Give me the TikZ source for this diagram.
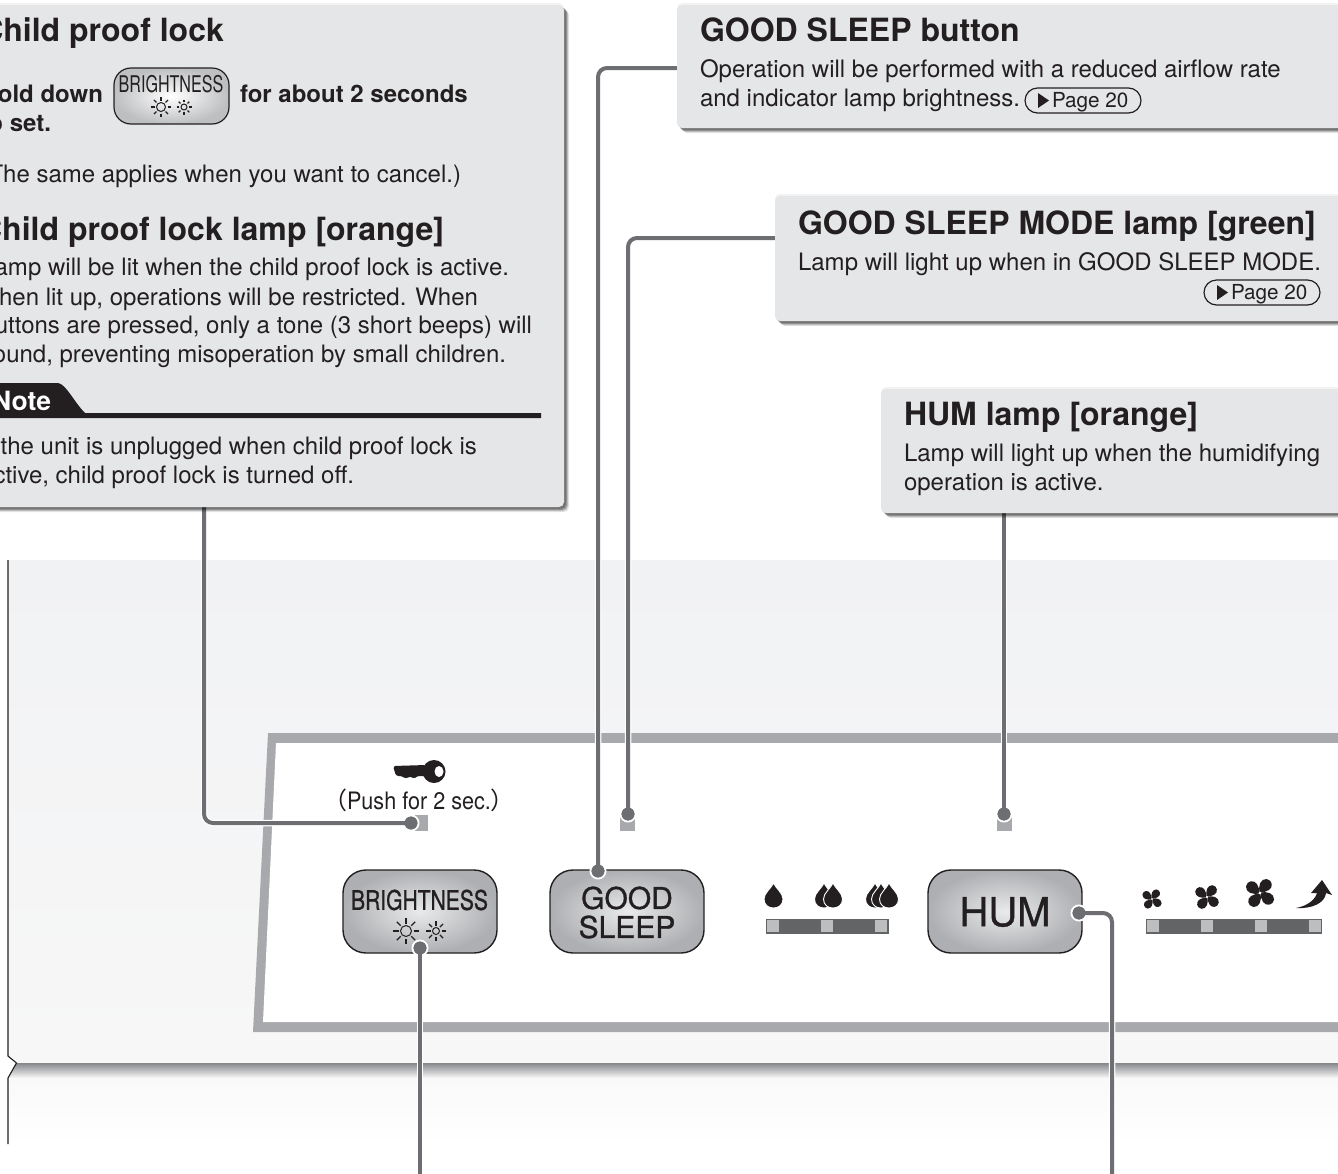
\documentclass[tikz,border=0pt]{standalone}
\usepackage{fontspec}
\usepackage{graphicx}
\setmainfont{TeX Gyre Heros}
\newfontfamily\cjkparen{Noto Sans CJK JP}
\newfontfamily\btnfont[FakeBold=1]{TeX Gyre Heros}
\usetikzlibrary{shadows,calc}
\definecolor{ink}{HTML}{231F20}
\definecolor{panelgrey}{HTML}{E5E6E8}
\definecolor{framegrey}{HTML}{A7A9AC}
\definecolor{linegrey}{HTML}{6D6E71}
\definecolor{bargrey}{HTML}{636466}
\definecolor{sqgrey}{HTML}{BCBEC0}
\definecolor{casetop}{HTML}{F1F2F4}
\definecolor{casebot}{HTML}{F7F7F7}
\definecolor{bandtop}{HTML}{86878B}
\definecolor{lowtop}{HTML}{F9F9F9}
\definecolor{btnlight}{HTML}{E9EAEB}
\definecolor{btnedge}{HTML}{ADAFB2}
\newcommand{\fs}[1]{\fontsize{#1}{#1}\selectfont}
\newcommand{\dropicon}[2]{% x, bottom y
  \path[fill=ink,draw=white,line width=.9pt] (#1,#2-25) .. controls (#1+2,#2-20) and (#1+9.5,#2-15) .. (#1+9.5,#2-9)
   .. controls (#1+9.5,#2-3) and (#1+5,#2) .. (#1,#2)
   .. controls (#1-5,#2) and (#1-9.5,#2-3) .. (#1-9.5,#2-9)
   .. controls (#1-9.5,#2-15) and (#1-2,#2-20) .. (#1,#2-25) -- cycle;}
\newcommand{\fanicon}[4]{% x,y,r,rot
  \begin{scope}[shift={(#1,#2)},rotate=#4]
  \foreach \a in {0,90,180,270}{
    \fill[ink,rotate=\a] (0,0) .. controls (-.05*#3,-.6*#3) and (.35*#3,-1.1*#3) .. (.8*#3,-.95*#3)
      .. controls (1.25*#3,-.75*#3) and (1.15*#3,-.15*#3) .. (.75*#3,-.05*#3) .. controls (.5*#3,.02*#3) and (.25*#3,.02*#3) .. (0,0) -- cycle;
  }
  \fill[white] (0,0) circle (.13*#3);
  \end{scope}}
\newcommand{\sunicon}[4]{% x,y,r,ray end
  \draw[ink,line width=1pt] (#1,#2) circle (#3);
  \foreach \a in {0,45,...,315}{
    \draw[ink,line width=1.2pt] ($(#1,#2)+(\a:#3+2)$) -- ($(#1,#2)+(\a:#4)$);
  }}
\tikzset{
  every node/.style={inner sep=0pt,outer sep=0pt},
  infobox/.style={fill=panelgrey,rounded corners=5pt,
    general shadow={fill=black,opacity=.05,shadow xshift=0pt,shadow yshift=2pt},
    general shadow={fill=black,opacity=.10,shadow xshift=5pt,shadow yshift=-5pt},
    general shadow={fill=black,opacity=.16,shadow xshift=4pt,shadow yshift=-4pt},
    general shadow={fill=black,opacity=.22,shadow xshift=3pt,shadow yshift=-3pt},
    general shadow={fill=black,opacity=.22,shadow xshift=2pt,shadow yshift=-2pt}},
  txt/.style={anchor=base west,text=ink},
  txte/.style={anchor=base east,text=ink},
  head/.style={font=\bfseries\fs{32}},
  body/.style={font=\fs{24}},
  bodyb/.style={font=\bfseries\fs{24}},
  conn/.style={draw=linegrey,line width=4pt,rounded corners=9pt,preaction={draw=white,line width=6.5pt}},
  dot/.style={circle,fill=linegrey,draw=white,line width=2pt,minimum size=15pt},
  lampbox/.style={fill=framegrey,minimum width=15pt,minimum height=16pt},
  button/.style={draw=ink,line width=1.4pt,rounded corners=23pt,minimum width=154pt,minimum height=83pt,inner color=btnlight,outer color=btnedge},
  pill/.style={draw=ink,line width=1.2pt,rounded corners=12.5pt,minimum width=116pt,minimum height=25pt},
  sq/.style={fill=sqgrey,draw=bargrey,line width=1pt,minimum width=13pt,minimum height=13.5pt},
  bar/.style={fill=bargrey,minimum height=15pt},
}
\begin{document}
\begin{tikzpicture}[x=1pt,y=-1pt]
\useasboundingbox (0,0) rectangle (1338,1173);
\fill[white] (0,0) rectangle (1338,1173);
\clip (0,0) rectangle (1338,1173);
% casing background
\shade[top color=casetop,bottom color=casebot] (8,560) rectangle (1338,1058);
\fill[casebot] (8,1058) -- (1338,1058) -- (1338,1063) -- (16,1063) -- cycle;
\shade[top color=bandtop,bottom color=lowtop] (16,1063) -- (1338,1063) -- (1338,1078) -- (8,1078) -- cycle;
\shade[top color=lowtop,bottom color=white] (8,1078) rectangle (1338,1144);
\draw[ink,line width=1.1pt] (8,560) -- (8,1056) -- (16.5,1063) -- (8,1078) -- (8,1144);
% control panel frame
\fill[framegrey] (268,733) -- (1338,733) -- (1338,1032) -- (253,1032) -- cycle;
\fill[white] (276,743) -- (1338,743) -- (1338,1022) -- (263,1022) -- cycle;
% named anchor points
\coordinate (c1) at (204,507);
\coordinate (c2) at (677,68);
\coordinate (c3) at (775,238);
\coordinate (c4) at (1004,513);
\coordinate (e5) at (420,1180);
\coordinate (e6) at (1112,1180);
% lamps
\node[lampbox,minimum width=13pt] (lampchild) at (421,823) {};
\node[lampbox] (lampsleep) at (627.5,823) {};
\node[lampbox] (lamphum) at (1004.5,823) {};
% buttons
\node[button] (btnbright) at (420,911.5) {};
\node[button] (btnsleep) at (627,911.5) {};
\node[button] (btnhum) at (1005,911.5) {};
\node[text=ink,font=\btnfont\fs{27}] (lblbright) at (419.5,900) {\scalebox{.78}[1]{BRIGHTNESS}};
\sunicon{406}{931}{5.5}{13}
\sunicon{436}{931}{3.5}{10}
\node[text=ink,font=\btnfont\fs{30},align=center] (lblsleep) at (627,912.5) {GOOD\\[-1pt]SLEEP};
\node[text=ink,font=\btnfont\fs{40}] (lblhum) at (1005,912) {HUM};
% connector dots
\node[dot] (d1) at (411,823) {};
\node[dot] (d2) at (598,871) {};
\node[dot] (d3) at (628,814) {};
\node[dot] (d4) at (1004,814) {};
\node[dot] (d5) at (420,948) {};
\node[dot] (d6) at (1079,913) {};
% connectors
\draw[conn] (c1) |- (d1.center);
\draw[conn] (c2) -| (d2.center);
\draw[conn] (c3) -| (d3.center);
\draw[conn] (c4) -- (d4.center);
\draw[conn] (d5.center) -- (e5);
\draw[conn] (d6.center) -| (e6);
\foreach \n in {d1,d2,d3,d4,d5,d6}{\fill[linegrey] (\n) circle (6.5pt);}
% info boxes
\node[infobox,minimum width=584pt,minimum height=502pt] (boxchild) at (272,256) {};
\node[infobox,minimum width=683pt,minimum height=123pt] (boxbutton) at (1018.5,66.5) {};
\node[infobox,minimum width=585pt,minimum height=125pt] (boxmode) at (1067.5,258.5) {};
\node[infobox,minimum width=479pt,minimum height=124pt] (boxhum) at (1120.5,451) {};
% child proof text
\node[txte,head] (t1) at (224,41) {Child proof lock};
\node[txte,bodyb] (t2) at (103,102) {Hold down};
\node[draw=ink,line width=1.2pt,rounded corners=17pt,minimum width=115pt,minimum height=56pt,inner color=white,outer color=btnedge!80!white] (btnsmall) at (171.5,96) {};
\node[text=ink,font=\fs{23}] (t3) at (171,84) {\scalebox{.7}[1]{BRIGHTNESS}};
\sunicon{161}{107}{4.5}{10}
\sunicon{184}{107}{3}{7.5}
\node[txt,bodyb] (t4) at (240,102) {for about 2 seconds};
\node[txte,bodyb] (t5) at (51,131) {to set.};
\node[txte,body] (t6) at (461,182) {(The same applies when you want to cancel.)};
\node[txte,head] (t7) at (444,240) {Child proof lock lamp [orange]};
\node[txte,body] (t8) at (509,275) {Lamp will be lit when the child proof lock is active.};
\node[txte,body] (t9) at (478,305) {When lit up, operations will be restricted. When};
\node[txte,body] (t10) at (532,333) {buttons are pressed, only a tone (3 short beeps) will};
\node[txte,body] (t11) at (506,362) {sound, preventing misoperation by small children.};
% note tab
\fill[ink] (-5,383) -- (58,383) .. controls (66,384) and (74,402) .. (85,413) -- (541,413) -- (541,418) -- (-5,418) -- cycle;
\node[anchor=base east,text=white,font=\bfseries\fs{26.5}] (t12) at (51,410) {Note};
\node[txte,body] (t13) at (477,454) {If the unit is unplugged when child proof lock is};
\node[txte,body] (t14) at (354,483) {active, child proof lock is turned off.};
% good sleep button text
\node[txt,head] (t15) at (700,41) {GOOD SLEEP button};
\node[txt,body] (t16) at (700,77) {Operation will be performed with a reduced airflow rate};
\node[txt,body] (t17) at (700,106) {and indicator lamp brightness.};
\node[pill] (pill1) at (1083,100.5) {};
\fill[ink] (1038,93) -- (1049,100.5) -- (1038,108) -- cycle;
\node[txt,font=\fs{20.7}] (t18) at (1052,107) {Page 20};
% mode lamp text
\node[txt,head] (t19) at (798,234) {GOOD SLEEP MODE lamp [green]};
\node[txt,body] (t20) at (798,270) {Lamp will light up when in GOOD SLEEP MODE.};
\node[pill] (pill2) at (1262,292.5) {};
\fill[ink] (1217,285) -- (1228,292.5) -- (1217,300) -- cycle;
\node[txt,font=\fs{20.7}] (t21) at (1231,299) {Page 20};
% hum lamp text
\node[txt,head] (t22) at (904,425) {HUM lamp [orange]};
\node[txt,body] (t23) at (904,461) {Lamp will light up when the humidifying};
\node[txt,body] (t24) at (904,490) {operation is active.};
% key and label
\fill[ink,rounded corners=2.5pt] (393,766) -- (426,765) -- (426,776) -- (417,776) -- (414,779) -- (410,776) -- (406,779) -- (402,776) -- (396,776) -- cycle;
\fill[ink] (434,771.5) circle (11.5);
\fill[white] (439,771.5) ellipse (4.5 and 5.5);
\node[text=ink,font=\fs{24}] (lblpush) at (419,800) {{\cjkparen （}\scalebox{.9}[1]{Push for 2 sec.}{\cjkparen ）}};
% humidity scale
\dropicon{773.5}{908}
\dropicon{824}{908}\dropicon{833}{908}
\dropicon{875}{908}\dropicon{881}{908}\dropicon{889}{908}
\node[bar,minimum width=123pt,anchor=west] (bar1) at (766,926) {};
\node[sq] (s1) at (773,926) {};
\node[sq] (s2) at (827,926) {};
\node[sq] (s3) at (881,926) {};
% fan scale
\fanicon{1152}{899}{8.5}{15}
\fanicon{1207}{897}{10.5}{15}
\fanicon{1260}{893}{12.5}{15}
\fill[ink] (1296,908) .. controls (1307,906) and (1315,900) .. (1317,893) -- (1311,893) -- (1322,880) -- (1332,895) -- (1326,893) .. controls (1325,903) and (1312,909) .. (1296,908) -- cycle;
\node[bar,minimum width=176pt,anchor=west] (bar2) at (1146,926) {};
\node[sq] (s4) at (1153,926) {};
\node[sq] (s5) at (1207,926) {};
\node[sq] (s6) at (1261,926) {};
\node[sq] (s7) at (1315,926) {};
\end{tikzpicture}
\end{document}
